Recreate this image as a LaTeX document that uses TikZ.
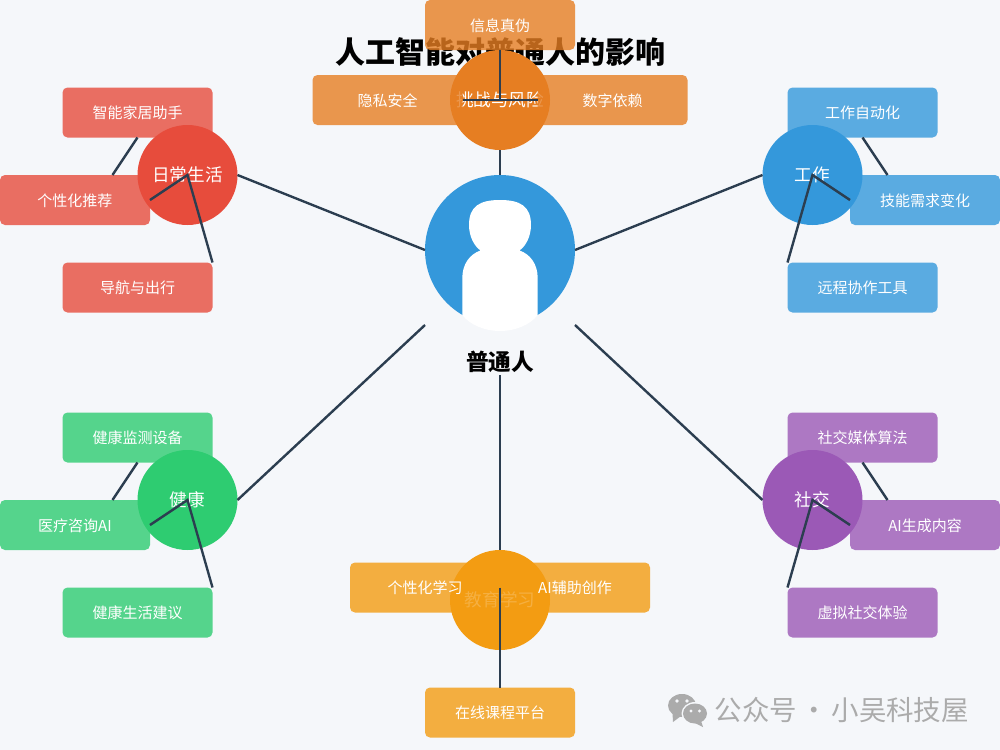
\documentclass[tikz,border=0pt]{standalone}
\usepackage{fontspec}
\setmainfont{Noto Sans CJK SC}
\definecolor{bgc}{HTML}{F5F7FA}
\definecolor{linec}{HTML}{2C3E50}
\definecolor{cred}{HTML}{E74C3C}
\definecolor{cblue}{HTML}{3498DB}
\definecolor{cgreen}{HTML}{2ECC71}
\definecolor{cpurple}{HTML}{9B59B6}
\definecolor{corange}{HTML}{E67E22}
\definecolor{cyellow}{HTML}{F39C12}
\definecolor{wmgrey}{HTML}{ABABAB}
\tikzset{
  x=0.75pt,y=-0.75pt,
  hub/.style={circle,inner sep=0pt,outer sep=0pt,minimum size=75pt,text=white,font=\fontsize{13.2pt}{15pt}\selectfont},
  leaf/.style={rectangle,rounded corners=3.75pt,inner sep=0pt,outer sep=0pt,minimum width=112.5pt,minimum height=37.5pt,
     text height=11pt,text depth=1.6pt,
     fill opacity=0.8,text opacity=1,text=white,font=\fontsize{11.25pt}{13pt}\selectfont},
  wire/.style={draw=linec,line width=1.8pt},
}
\begin{document}
\begin{tikzpicture}
\useasboundingbox (0,0) rectangle (1000,750);
\fill[bgc] (0,0) rectangle (1000,750);
% title
\node[font=\fontsize{22.5pt}{26pt}\selectfont\bfseries,inner sep=0pt] (title) at (500,52) {人工智能对普通人的影响};
% centre
\node[circle,fill=cblue,inner sep=0pt,outer sep=0pt,minimum size=112.5pt] (me) at (500,250) {};
\fill[white] (469,225) .. controls (469,206) and (480,200) .. (500,200) .. controls (520,200) and (531,206) .. (531,225)
  .. controls (531,236) and (526,246) .. (519.5,250.5) .. controls (530,254) and (537.7,264) .. (537.7,278)
  -- (537.7,315) .. controls (530,325) and (515,331) .. (500,331) .. controls (485,331) and (470,325) .. (462.3,315)
  -- (462.3,278) .. controls (462.3,264) and (470,254) .. (480.5,250.5) .. controls (474,246) and (469,236) .. (469,225) -- cycle;
\node[font=\fontsize{17pt}{20pt}\selectfont\bfseries,inner sep=0pt] (melabel) at (500,362) {普通人};
% free ends of the spokes
\coordinate (meNW) at (425,250);
\coordinate (meNE) at (575,250);
\coordinate (meSW) at (425,325);
\coordinate (meSE) at (575,325);
\coordinate (meS) at (500,375);
% hubs
\node[hub,fill=cred] (hdaily) at (187.5,175) {日常生活};
\node[hub,fill=cblue] (hwork) at (812.5,175) {工作};
\node[hub,fill=cgreen] (hhealth) at (187.5,500) {健康};
\node[hub,fill=cpurple] (hsocial) at (812.5,500) {社交};
\node[hub,fill=corange] (hrisk) at (500,100) {挑战与风险};
\node[hub,fill=cyellow] (hedu) at (500,600) {教育学习};
% leaves
\node[leaf,fill=cred] (d1) at (137.5,112.5) {智能家居助手};
\node[leaf,fill=cred] (d2) at (75,200) {个性化推荐};
\node[leaf,fill=cred] (d3) at (137.5,287.5) {导航与出行};
\node[leaf,fill=cblue] (w1) at (862.5,112.5) {工作自动化};
\node[leaf,fill=cblue] (w2) at (925,200) {技能需求变化};
\node[leaf,fill=cblue] (w3) at (862.5,287.5) {远程协作工具};
\node[leaf,fill=cgreen] (h1) at (137.5,437.5) {健康监测设备};
\node[leaf,fill=cgreen] (h2) at (75,525) {医疗咨询AI};
\node[leaf,fill=cgreen] (h3) at (137.5,612.5) {健康生活建议};
\node[leaf,fill=cpurple] (s1) at (862.5,437.5) {社交媒体算法};
\node[leaf,fill=cpurple] (s2) at (925,525) {AI生成内容};
\node[leaf,fill=cpurple] (s3) at (862.5,612.5) {虚拟社交体验};
\node[leaf,fill=corange] (r1) at (500,25) {信息真伪};
\node[leaf,fill=corange] (r2) at (387.5,100) {隐私安全};
\node[leaf,fill=corange] (r3) at (612.5,100) {数字依赖};
\node[leaf,fill=cyellow] (e1) at (425,587.5) {个性化学习};
\node[leaf,fill=cyellow] (e2) at (575,587.5) {AI辅助创作};
\node[leaf,fill=cyellow] (e3) at (500,712.5) {在线课程平台};
% spokes
\draw[wire] (hrisk.south) -- (me.north);
\draw[wire] (meNW) -- (hdaily.east);
\draw[wire] (meNE) -- (hwork.west);
\draw[wire] (meSW) -- (hhealth.east);
\draw[wire] (meSE) -- (hsocial.west);
\draw[wire] (meS) -- (hedu.north);
% leaf links
\coordinate (d2n) at (112.5,175);
\coordinate (w2n) at (887.5,175);
\coordinate (h2n) at (112.5,500);
\coordinate (s2n) at (887.5,500);
\coordinate (euptop) at (500,587.5);
\draw[wire] (d1.south) -- (d2n);
\draw[wire] (d2.east) -- (hdaily.center) -- (d3.north east);
\draw[wire] (w1.south) -- (w2n);
\draw[wire] (w2.west) -- (hwork.center) -- (w3.north west);
\draw[wire] (h1.south) -- (h2n);
\draw[wire] (h2.east) -- (hhealth.center) -- (h3.north east);
\draw[wire] (s1.south) -- (s2n);
\draw[wire] (s2.west) -- (hsocial.center) -- (s3.north west);
\draw[wire] (r1.south) -- (hrisk.center);
\draw[wire] (r2.east) -- (r3.west);
\draw[wire] (euptop) -- (e3.north);
% watermark
\fill[wmgrey] (682,705.5) ellipse (14 and 11.5);
\fill[wmgrey] (672.5,713) -- (673,722) -- (681,716) -- cycle;
\fill[bgc] (695,713.5) ellipse (13.5 and 11.5);
\fill[wmgrey] (695,713.5) ellipse (12 and 10);
\fill[wmgrey] (701,721) -- (703,727) -- (695,723) -- cycle;
\fill[bgc] (677,701) circle (1.9) (687,701) circle (1.9) (691,711) circle (1.6) (699.5,711) circle (1.6);
\node[font=\fontsize{20.6pt}{25pt}\selectfont,text=wmgrey,inner sep=0pt,anchor=west] (wm) at (714.5,710) {公众号\hspace{-2pt} · \hspace{-2pt}小吴科技屋};
\end{tikzpicture}
\end{document}
